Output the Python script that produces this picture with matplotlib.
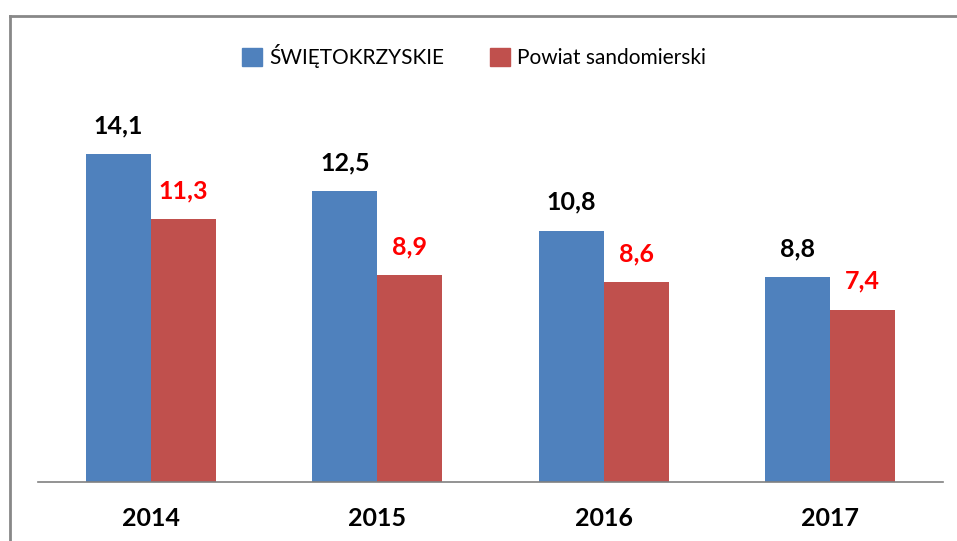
import matplotlib.pyplot as plt
import numpy as np
from matplotlib.lines import Line2D
from matplotlib.patches import Patch

lata = ['2014', '2015', '2016', '2017']
swietokrzyskie = [14.1, 12.5, 10.8, 8.8]
sandomierski = [11.3, 8.9, 8.6, 7.4]
nazwy = ['ŚWIĘTOKRZYSKIE', 'Powiat sandomierski']

niebieski = '#4F81BD'
czerwony = '#C0504D'
W, H = 957, 541

fig = plt.figure(figsize=(W / 100, H / 100), dpi=100)

# obszar wykresu w pikselach: lewo 38, prawo 943, dol 482
ymax = 16
px_na_jedn = 23.26
top = 482 - ymax * px_na_jedn
ax = fig.add_axes([38 / W, 1 - 482 / H, (943 - 38) / W, (482 - top) / H])

x = np.arange(len(lata))
w = 0.287
b1 = ax.bar(x - w / 2, swietokrzyskie, w, color=niebieski, label=nazwy[0])
b2 = ax.bar(x + w / 2, sandomierski, w, color=czerwony, label=nazwy[1])

for r, v in zip(b1, swietokrzyskie):
    ax.annotate(f'{v:.1f}'.replace('.', ','), (r.get_x() + r.get_width() / 2, v),
                xytext=(0, 17), textcoords='offset pixels', ha='center', va='bottom',
                fontsize=18, fontweight='bold', family='Lato', color='black',
                annotation_clip=False)
for r, v in zip(b2, sandomierski):
    ax.annotate(f'{v:.1f}'.replace('.', ','), (r.get_x() + r.get_width() / 2, v),
                xytext=(0, 17), textcoords='offset pixels', ha='center', va='bottom',
                fontsize=18, fontweight='bold', family='Lato', color='#FF0000',
                annotation_clip=False)

ax.set_xlim(-0.5, len(lata) - 0.5)
ax.set_ylim(0, ymax)
ax.set_xticks(x)
ax.set_xticklabels(lata, fontsize=18, fontweight='bold', family='Lato')
ax.tick_params(axis='x', length=0, pad=18)
ax.set_yticks([])
for s in ['top', 'right', 'left']:
    ax.spines[s].set_visible(False)
ax.spines['bottom'].set_color('#808080')
ax.spines['bottom'].set_linewidth(1.2)

uchwyty = [Patch(color=niebieski), Patch(color=czerwony)]
fig.legend(uchwyty, nazwy, loc='center', bbox_to_anchor=(474 / W, 1 - 56 / H),
           ncol=2, frameon=False, prop={'family': 'Lato', 'size': 15},
           handlelength=0.95, handleheight=0.95, handletextpad=0.35, columnspacing=2.2)

# ramka wykresu
fig.add_artist(Line2D([10 / W, 10 / W], [0, 1 - 16 / H], color='#888888', lw=2))
fig.add_artist(Line2D([10 / W, 1], [1 - 16 / H, 1 - 16 / H], color='#888888', lw=2))

fig.savefig('out.png', dpi=100)
